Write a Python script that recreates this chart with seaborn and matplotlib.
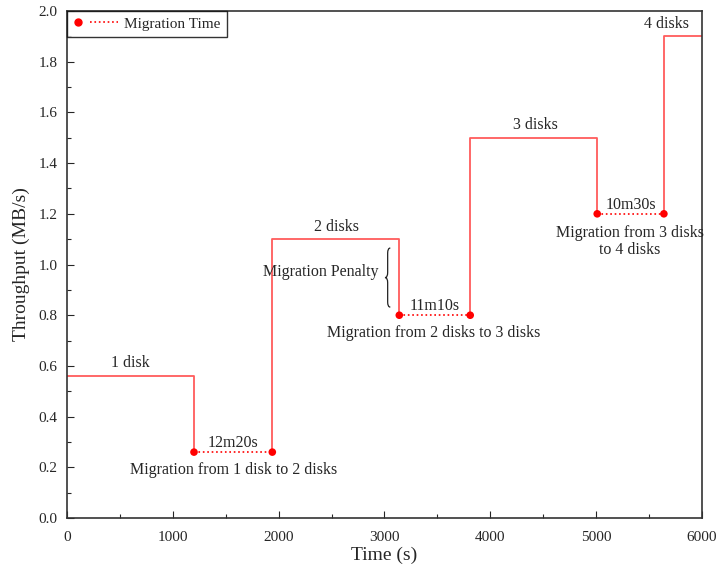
import numpy as np
import pandas as pd
import matplotlib.pyplot as plt
import seaborn as sns
from matplotlib.path import Path
from matplotlib.patches import PathPatch
from matplotlib.lines import Line2D
from matplotlib.legend_handler import HandlerBase

# phases with a fixed number of disks
disk_labels = ["1 disk", "2 disks", "3 disks", "4 disks"]
phase_start = [0, 1940, 3810, 5640]
phase_end = [1200, 3140, 5010, 6000]
phase_tput = [0.56, 1.10, 1.50, 1.90]

# migration periods (between phases)
mig_tput = [0.26, 0.80, 1.20]
mig_time = ["12m20s", "11m10s", "10m30s"]
mig_text = ["Migration from 1 disk to 2 disks",
            "Migration from 2 disks to 3 disks",
            "Migration from 3 disks\nto 4 disks"]

sns.set_style("ticks")
plt.rcParams["font.family"] = ["Liberation Serif", "DejaVu Serif"]
plt.rcParams["xtick.direction"] = "in"
plt.rcParams["ytick.direction"] = "in"

# build step segments
rows = []
for i in range(len(phase_start)):
    pts = []
    if i > 0:
        pts.append((phase_start[i], mig_tput[i - 1]))
    pts.append((phase_start[i], phase_tput[i]))
    pts.append((phase_end[i], phase_tput[i]))
    if i < len(mig_tput):
        pts.append((phase_end[i], mig_tput[i]))
    for t, v in pts:
        rows.append({"seg": i, "time": t, "tput": v})
steps = pd.DataFrame(rows)

mig_rows = []
for i in range(len(mig_tput)):
    mig_rows.append({"seg": i, "time": phase_end[i], "tput": mig_tput[i]})
    mig_rows.append({"seg": i, "time": phase_start[i + 1], "tput": mig_tput[i]})
mig = pd.DataFrame(mig_rows)

fig = plt.figure(figsize=(7.18, 5.68), dpi=100)
ax = fig.add_axes([0.0933, 0.088, 0.8844, 0.8926])

sns.lineplot(data=steps, x="time", y="tput", units="seg", estimator=None, sort=False,
             color="#ff4040", alpha=0.85, linewidth=1.3, ax=ax, legend=False)
sns.lineplot(data=mig, x="time", y="tput", units="seg", estimator=None, sort=False,
             color="red", linestyle=":", linewidth=1.2, ax=ax, legend=False)
sns.scatterplot(data=mig, x="time", y="tput", color="red", s=30, edgecolor="none",
                ax=ax, legend=False, zorder=5)


# legend handle: dot on the left, dotted line after it
class DotLineHandler(HandlerBase):
    def create_artists(self, legend, orig_handle, xdescent, ydescent, width, height,
                       fontsize, trans):
        x0 = -xdescent
        y = height / 2 - ydescent
        dot = Line2D([x0 + width * 0.11], [y], color="red", marker="o", markersize=5,
                     linestyle="none", transform=trans)
        line = Line2D([x0 + width * 0.38, x0 + width], [y, y], color="red",
                      linestyle=":", linewidth=1.2, transform=trans)
        return [line, dot]


proxy = Line2D([], [], color="red")
leg = ax.legend([proxy], ["Migration Time"], loc="upper left", fontsize=11,
                frameon=True, fancybox=False, borderaxespad=0, handlelength=2.95,
                handletextpad=0.4, handler_map={Line2D: DotLineHandler()})
leg.get_frame().set_edgecolor("black")
leg.get_frame().set_linewidth(1.0)

# labels for phases
label_x = [595, 2551, 4422, 5660]
for i, lab in enumerate(disk_labels):
    ax.text(label_x[i], phase_tput[i] + 0.018, lab, ha="center", va="bottom", fontsize=11.5)

for i in range(len(mig_tput)):
    cx = (phase_end[i] + phase_start[i + 1]) / 2
    ax.text(cx, mig_tput[i] + 0.005, mig_time[i], ha="center", va="bottom", fontsize=11.5)

ax.text(1578, 0.19, mig_text[0], ha="center", va="center", fontsize=11.5)
ax.text(3468, 0.73, mig_text[1], ha="center", va="center", fontsize=11.5)
ax.text(5320, 1.092, mig_text[2], ha="center", va="center", fontsize=11.5, linespacing=1.1)

# migration penalty brace
ax.text(2940, 0.97, "Migration Penalty", ha="right", va="center", fontsize=11.5)
bx, bw = 3005, 50
by0, by1 = 0.832, 1.065
bm = (by0 + by1) / 2
hk = 0.02
verts = [(bx + bw, by1), (bx + bw / 2, by1), (bx + bw / 2, by1 - hk),
         (bx + bw / 2, bm + hk),
         (bx + bw / 2, bm), (bx, bm),
         (bx + bw / 2, bm), (bx + bw / 2, bm - hk),
         (bx + bw / 2, by0 + hk),
         (bx + bw / 2, by0), (bx + bw, by0)]
codes = [Path.MOVETO, Path.CURVE3, Path.CURVE3, Path.LINETO,
         Path.CURVE3, Path.CURVE3, Path.CURVE3, Path.CURVE3,
         Path.LINETO, Path.CURVE3, Path.CURVE3]
ax.add_patch(PathPatch(Path(verts, codes), facecolor="none", edgecolor="#222222", linewidth=0.9))

ax.set_xlim(0, 6000)
ax.set_ylim(0, 2.0)
ax.set_xticks(np.arange(0, 6001, 1000))
ax.set_xticks(np.arange(0, 6001, 500), minor=True)
ax.set_yticks(np.arange(0, 2.01, 0.2))
ax.set_yticks(np.arange(0, 2.01, 0.1), minor=True)
ax.yaxis.set_major_formatter(plt.FormatStrFormatter("%.1f"))
ax.tick_params(axis="x", which="major", labelsize=11, length=5, width=0.8, pad=9)
ax.tick_params(axis="y", which="major", labelsize=11, length=5, width=0.8, pad=7)
ax.tick_params(axis="both", which="minor", length=3, width=0.8)
ax.set_xlabel("Time (s)", fontsize=14, labelpad=2)
ax.set_ylabel("Throughput (MB/s)", fontsize=14, labelpad=6)
for sp in ax.spines.values():
    sp.set_visible(True)
    sp.set_linewidth(1.2)
    sp.set_color("#333333")

fig.savefig("out.png", dpi=100)
